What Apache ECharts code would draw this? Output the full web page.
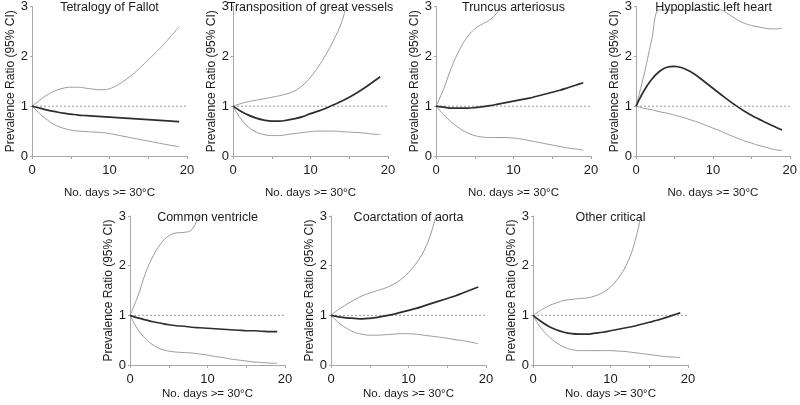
<!DOCTYPE html>
<html>
<head>
<meta charset="utf-8">
<script src="https://cdn.jsdelivr.net/npm/echarts@6/dist/echarts.min.js"></script>
<style>html,body{margin:0;padding:0;background:#fff}#c{width:800px;height:405px}</style>
</head>
<body>
<div id="c"></div>
<script>
// ---- data ----
const xDays = [0,1,2,3,4,5,6,7,8,9,10,11,12,13,14,15,16,17,18,19];
const xTickLabels = [0, 10, 20];
const yTickLabels = [0, 1, 2, 3];
const refX = [0, 20];
const refY = [1, 1];
const panelTitles = ['Tetralogy of Fallot','Transposition of great vessels','Truncus arteriosus','Hypoplastic left heart','Common ventricle','Coarctation of aorta','Other critical'];

// Tetralogy of Fallot
const midTOF   = [1,0.96,0.92,0.89,0.86,0.84,0.82,0.81,0.80,0.79,0.78,0.77,0.76,0.75,0.74,0.73,0.72,0.71,0.70,0.69];
const upperTOF = [1,1.12,1.23,1.31,1.36,1.38,1.38,1.36,1.34,1.33,1.35,1.42,1.52,1.64,1.78,1.93,2.08,2.24,2.42,2.6];
const lowerTOF = [1,0.85,0.72,0.62,0.56,0.52,0.50,0.49,0.48,0.47,0.45,0.42,0.39,0.36,0.33,0.30,0.27,0.24,0.21,0.19];
// Transposition of great vessels
const midTGV   = [1,0.9,0.82,0.76,0.72,0.70,0.70,0.72,0.75,0.79,0.85,0.90,0.96,1.03,1.10,1.18,1.27,1.37,1.48,1.59];
const upperTGV = [1,1.05,1.09,1.12,1.15,1.18,1.21,1.25,1.31,1.42,1.58,1.79,2.04,2.33,2.68,3.23];
const lowerTGV = [1,0.75,0.58,0.48,0.43,0.41,0.41,0.43,0.45,0.47,0.49,0.50,0.50,0.50,0.49,0.48,0.47,0.46,0.44,0.43];
// Truncus arteriosus
const midTA    = [1,0.98,0.96,0.96,0.96,0.97,0.99,1.01,1.04,1.07,1.10,1.13,1.16,1.20,1.24,1.28,1.32,1.37,1.42,1.47];
const upperTA  = [1,1.35,1.78,2.12,2.38,2.55,2.65,2.74,2.90,3.15];
const lowerTA  = [1,0.83,0.68,0.56,0.47,0.41,0.38,0.37,0.37,0.37,0.36,0.34,0.31,0.28,0.25,0.22,0.19,0.16,0.14,0.12];
// Hypoplastic left heart
const midHLH   = [1,1.3,1.53,1.69,1.78,1.80,1.77,1.70,1.60,1.48,1.36,1.24,1.12,1.01,0.91,0.82,0.74,0.66,0.59,0.52];
const upperHLH = [1,1.6,2.3,2.93,2.93,2.93,2.93,2.93,2.93,2.93,2.93,2.93,2.85,2.75,2.67,2.62,2.59,2.56,2.55,2.56];
const lowerHLH = [1,0.96,0.93,0.89,0.86,0.82,0.78,0.73,0.68,0.62,0.56,0.50,0.43,0.37,0.31,0.26,0.21,0.17,0.13,0.11];
// Common ventricle
const midCV    = [1,0.95,0.91,0.87,0.84,0.81,0.79,0.78,0.76,0.75,0.74,0.73,0.72,0.71,0.70,0.69,0.69,0.68,0.67,0.67];
const upperCV  = [1,1.38,1.85,2.2,2.45,2.6,2.66,2.67,2.73,3.07];
const lowerCV  = [1,0.72,0.53,0.40,0.32,0.28,0.26,0.25,0.24,0.22,0.20,0.17,0.15,0.12,0.10,0.08,0.06,0.05,0.04,0.03];
// Coarctation of aorta
const midCoA   = [1,0.97,0.95,0.94,0.93,0.94,0.96,0.99,1.02,1.06,1.10,1.14,1.19,1.24,1.29,1.34,1.39,1.45,1.51,1.57];
const upperCoA = [1,1.12,1.22,1.31,1.39,1.45,1.50,1.55,1.62,1.72,1.86,2.05,2.30,2.70,3.3];
const lowerCoA = [1,0.85,0.74,0.66,0.62,0.60,0.60,0.61,0.62,0.63,0.63,0.62,0.60,0.58,0.56,0.54,0.51,0.49,0.46,0.43];
// Other critical
const midOC    = [1,0.88,0.78,0.71,0.66,0.63,0.62,0.62,0.64,0.66,0.69,0.72,0.75,0.78,0.82,0.86,0.90,0.95,1.00,1.05];
const upperOC  = [1,1.1,1.19,1.25,1.30,1.32,1.34,1.35,1.39,1.46,1.57,1.75,2.0,2.4,3.05];
const lowerOC  = [1,0.75,0.58,0.45,0.36,0.31,0.29,0.29,0.29,0.29,0.29,0.28,0.27,0.25,0.23,0.21,0.19,0.17,0.16,0.15];

const mids   = [midTOF, midTGV, midTA, midHLH, midCV, midCoA, midOC];
const uppers = [upperTOF, upperTGV, upperTA, upperHLH, upperCV, upperCoA, upperOC];
const lowers = [lowerTOF, lowerTGV, lowerTA, lowerHLH, lowerCV, lowerCoA, lowerOC];

// ---- layout ----
const gridRects = [
  {left:32, top:6, width:155, height:150},
  {left:233, top:6, width:155, height:150},
  {left:436, top:6, width:155, height:150},
  {left:636, top:6, width:155, height:150},
  {left:130, top:216, width:155, height:149},
  {left:331, top:216, width:155, height:149},
  {left:533, top:216, width:155, height:149}
];
const xNameGaps = [31, 31, 31, 31, 23, 23, 23];
const FONT = 'Liberation Sans, Arial, Helvetica, sans-serif';
const AX = '#a8a8a8';
const TXT = '#1a1a1a';

const pair = (vals) => vals.map((v, i) => [xDays[i], v]);

const grid = [], xAxis = [], yAxis = [], series = [], title = [];
gridRects.forEach((g, i) => {
  grid.push(Object.assign({containLabel:false}, g));
  xAxis.push({
    type:'value', gridIndex:i, min:xTickLabels[0], max:xTickLabels[xTickLabels.length-1], interval:10,
    name:'No. days >= 30°C', nameLocation:'middle', nameGap:xNameGaps[i],
    nameTextStyle:{fontSize:11.5, color:TXT, fontFamily:FONT},
    axisLine:{show:true, lineStyle:{color:AX, width:1}},
    axisTick:{show:true, length:3, lineStyle:{color:AX}},
    minorTick:{show:true, splitNumber:2, length:3, lineStyle:{color:AX}},
    axisLabel:{fontSize:13, color:TXT, margin:8, fontFamily:FONT},
    splitLine:{show:false}
  });
  yAxis.push({
    type:'value', gridIndex:i, min:yTickLabels[0], max:yTickLabels[yTickLabels.length-1], interval:1,
    name:'Prevalence Ratio (95% CI)', nameLocation:'middle', nameGap:12,
    nameTextStyle:{fontSize:12, color:TXT, fontFamily:FONT},
    axisLine:{show:true, lineStyle:{color:AX, width:1}},
    axisTick:{show:true, length:2, lineStyle:{color:AX}},
    axisLabel:{fontSize:13, color:TXT, margin:4, fontFamily:FONT},
    splitLine:{show:false}
  });
  title.push({
    text: panelTitles[i], left: g.left + g.width/2, top: g.top - 5, textAlign:'center', padding:0,
    textStyle:{fontSize:12.5, fontWeight:'normal', color:TXT, fontFamily:FONT}
  });
  series.push({
    type:'line', xAxisIndex:i, yAxisIndex:i, data: refX.map((x,k)=>[x, refY[k]]),
    symbol:'none', silent:true, lineStyle:{color:'#999', width:1, type:[2,2]}
  });
  series.push({
    type:'line', xAxisIndex:i, yAxisIndex:i, data: pair(uppers[i]), smooth:0.4, clip:true,
    symbol:'none', silent:true, lineStyle:{color:'#9a9a9a', width:1}
  });
  series.push({
    type:'line', xAxisIndex:i, yAxisIndex:i, data: pair(lowers[i]), smooth:0.4, clip:true,
    symbol:'none', silent:true, lineStyle:{color:'#9a9a9a', width:1}
  });
  series.push({
    type:'line', xAxisIndex:i, yAxisIndex:i, data: pair(mids[i]), smooth:0.4, clip:true,
    symbol:'none', silent:true, lineStyle:{color:'#2e2e2e', width:1.7}
  });
});

const chart = echarts.init(document.getElementById('c'), null, {renderer:'canvas'});
chart.setOption({animation:false, backgroundColor:'#fff', textStyle:{fontFamily:FONT}, title, grid, xAxis, yAxis, series});
</script>
</body>
</html>
